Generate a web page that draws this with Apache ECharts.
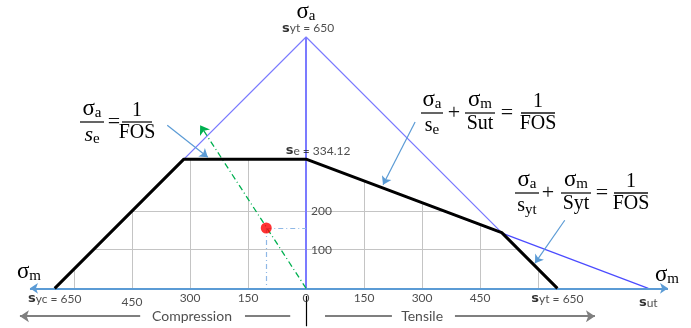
<!DOCTYPE html>
<html>
<head>
<meta charset="utf-8">
<script src="https://cdn.jsdelivr.net/npm/echarts@6/dist/echarts.min.js"></script>
<style>
  html, body { margin: 0; padding: 0; background: #fff; }
  #chart { width: 691px; height: 328px; }
</style>
</head>
<body>
<div id="chart"></div>
<script>
// safe-zone boundary (black): compression yield, endurance, Goodman, tensile yield
const safeM = [-650, -316, 0, 506, 650];
const safeA = [0, 334.12, 334.12, 144, 0];
// Langer yield lines
const langerM = [-650, 0, 650];
const langerA = [0, 650, 0];
// modified Goodman line
const goodmanM = [0, 885];
const goodmanA = [334.12, 0];
// working point and load line end
const pointM = -103;
const pointA = 156;
const loadEndM = -274;
const loadEndA = 422;
// grid lines inside the safe zone
const gridM = [-600, -450, -300, -150, 150, 300, 450, 600];
const gridA = [100, 200];
// σm axis labels
const tickM = [-650, -450, -300, -150, 0, 150, 300, 450, 650, 885];
const tickLabels = ["{b|s}yc = 650", "450", "300", "150", "0", "150", "300", "450", "{b|s}yt = 650", "{b|s}ut"];
// σa axis labels
const vTickA = [100, 200];
const vTickLabels = ["100", "200"];

const sans = "Lato";
const serif = "Liberation Serif";

function crossings(a) {
  // σm where the black boundary reaches σa = a
  const out = [];
  for (let i = 0; i < safeM.length - 1; i += 1) {
    const a0 = safeA[i], a1 = safeA[i + 1];
    if ((a - a0) * (a - a1) <= 0 && a0 !== a1) {
      out.push(safeM[i] + ((a - a0) / (a1 - a0)) * (safeM[i + 1] - safeM[i]));
    }
  }
  return out;
}
function boundaryAt(m) {
  for (let i = 0; i < safeM.length - 1; i += 1) {
    if (m >= safeM[i] && m <= safeM[i + 1]) {
      const t = (m - safeM[i]) / (safeM[i + 1] - safeM[i]);
      return safeA[i] + t * (safeA[i + 1] - safeA[i]);
    }
  }
  return 0;
}

const gridSegs = [];
gridM.forEach((m) => gridSegs.push({ coords: [[m, 0], [m, boundaryAt(m)]] }));
gridA.forEach((a) => {
  const c = crossings(a);
  gridSegs.push({ coords: [[Math.min(...c), a], [Math.max(...c), a]] });
});

const mathRich = {
  m: { fontFamily: serif, fontSize: 23, color: "#111" },
  s: { fontFamily: serif, fontSize: 15, color: "#111", padding: [9, 0, 0, 0] },
  i: { fontFamily: serif, fontSize: 22, color: "#111", fontStyle: "italic" },
  t: { fontFamily: serif, fontSize: 20, color: "#111" },
};

function txt(x, y, text, align, valign, rich) {
  return {
    type: "text",
    x: x,
    y: y,
    style: {
      text: text,
      rich: rich || mathRich,
      align: align, textAlign: align,
      verticalAlign: valign, textVerticalAlign: valign,
    },
  };
}
function frac(cx, y, num, den, w) {
  return [
    txt(cx, y - 1, num, "center", "bottom"),
    { type: "line", shape: { x1: cx - w / 2, y1: y, x2: cx + w / 2, y2: y }, style: { stroke: "#111", lineWidth: 1.3 } },
    txt(cx, y + 1, den, "center", "top"),
  ];
}
function sign(x, y, s) {
  return {
    type: "text",
    x: x,
    y: y,
    style: {
      text: s,
      font: "22px 'Liberation Serif'",
      fill: "#111",
      align: "center", textAlign: "center",
      verticalAlign: "middle", textVerticalAlign: "middle",
    },
  };
}

const formulas = [].concat(
  frac(92, 122, "{m|σ}{s|a}", "{i|s}{s|e}", 24),
  [sign(114, 122, "=")],
  frac(137, 122, "{t|1}", "{t|FOS}", 30),

  frac(432, 113, "{m|σ}{s|a}", "{t|s}{s|e}", 22),
  [sign(454, 113, "+")],
  frac(480, 113, "{m|σ}{s|m}", "{t|Sut}", 30),
  [sign(507, 113, "=")],
  frac(538, 113, "{t|1}", "{t|FOS}", 34),

  frac(527, 193, "{m|σ}{s|a}", "{t|s}{s|yt}", 24),
  [sign(548, 193, "+")],
  frac(576, 193, "{m|σ}{s|m}", "{t|Syt}", 30),
  [sign(602, 193, "=")],
  frac(631, 193, "{t|1}", "{t|FOS}", 34),

  [txt(306, 12, "{m|σ}{s|a}", "center", "middle")],
  [txt(29, 272, "{m|σ}{s|m}", "center", "middle")],
  [txt(667, 275, "{m|σ}{s|m}", "center", "middle")]
);

const tickRich = { b: { fontFamily: "DejaVu Sans", fontSize: 13, fontWeight: "bold", color: "#000" } };

const chart = echarts.init(document.getElementById("chart"));
chart.setOption({
  animation: false,
  grid: { left: 6, right: 13.7, top: 2.2, bottom: 1 },
  xAxis: { type: "value", min: -776, max: 960, show: false },
  yAxis: { type: "value", min: -100, max: 740, show: false },
  graphic: formulas,
  series: [
    {
      name: "grid",
      type: "lines",
      coordinateSystem: "cartesian2d",
      z: 1,
      lineStyle: { color: "#c4c4c4", width: 1, opacity: 1 },
      data: gridSegs,
    },
    {
      name: "Langer",
      type: "line",
      z: 2,
      symbol: "none",
      lineStyle: { color: "#7b7bff", width: 1.2 },
      data: langerM.map((m, i) => [m, langerA[i]]),
    },
    {
      name: "Goodman",
      type: "line",
      z: 2,
      symbol: "none",
      lineStyle: { color: "#4b4bff", width: 1.2 },
      data: goodmanM.map((m, i) => [m, goodmanA[i]]),
    },
    {
      name: "axes",
      type: "lines",
      coordinateSystem: "cartesian2d",
      z: 3,
      data: [
        { coords: [[0, 0], [0, 650]], lineStyle: { color: "#7b7bff", width: 2, opacity: 1 } },
        { coords: [[-714, 0], [936, 0]], symbol: ["arrow", "arrow"], symbolSize: 8, lineStyle: { color: "#5b9bd5", width: 2, opacity: 1 } },
      ],
    },
    {
      name: "safe zone",
      type: "line",
      z: 5,
      symbol: "none",
      lineStyle: { color: "#000", width: 3 },
      data: safeM.map((m, i) => [m, safeA[i]]),
    },
    {
      name: "load line",
      type: "lines",
      coordinateSystem: "cartesian2d",
      z: 4,
      symbol: ["none", "arrow"],
      symbolSize: 9,
      lineStyle: { color: "#00b050", width: 1.3, type: [6, 3, 1, 3], opacity: 1 },
      data: [{ coords: [[0, 0], [loadEndM, loadEndA]] }],
    },
    {
      name: "projections",
      type: "lines",
      coordinateSystem: "cartesian2d",
      z: 4,
      lineStyle: { color: "#8fb8e6", width: 1.2, type: [5, 3, 1, 3], opacity: 1 },
      data: [
        { coords: [[pointM, pointA], [pointM, 0]] },
        { coords: [[pointM, pointA], [0, pointA]] },
      ],
    },
    {
      name: "point",
      type: "scatter",
      z: 6,
      symbolSize: 11,
      itemStyle: { color: "#ff0000" },
      data: [[pointM, pointA]],
    },
    {
      name: "callouts",
      type: "lines",
      coordinateSystem: "cartesian2d",
      z: 6,
      symbol: ["none", "arrow"],
      symbolSize: 8,
      lineStyle: { color: "#5b9bd5", width: 1.2, opacity: 1 },
      data: [
        { coords: [[-359, 422], [-254, 339]] },
        { coords: [[282, 430], [199, 268]] },
        { coords: [[669, 176], [592, 65]] },
      ],
    },
    {
      name: "direction",
      type: "lines",
      coordinateSystem: "cartesian2d",
      z: 3,
      lineStyle: { color: "#7f7f7f", width: 2, opacity: 1 },
      data: [
        { coords: [[-429, -72], [-740, -72]], symbol: ["none", "arrow"], symbolSize: 9 },
        { coords: [[-158, -72], [-41, -72]], symbol: ["none", "none"] },
        { coords: [[49, -72], [222, -72]], symbol: ["none", "none"] },
        { coords: [[385, -72], [747, -72]], symbol: ["none", "arrow"], symbolSize: 9 },
        { coords: [[0, -20], [0, -98]], symbol: ["none", "none"], lineStyle: { color: "#000", width: 1.2 } },
      ],
    },
    {
      name: "m ticks",
      type: "scatter",
      z: 7,
      symbolSize: 0,
      silent: true,
      label: {
        show: true,
        position: "bottom",
        distance: 4,
        fontFamily: sans,
        fontSize: 12,
        color: "#222",
        rich: tickRich,
        formatter: (p) => tickLabels[p.dataIndex],
      },
      data: tickM.map((m, i) => ({
        value: [m, 0],
        label: i === 1 || i === 9 ? { offset: [0, 4] } : {},
      })),
    },
    {
      name: "a ticks",
      type: "scatter",
      z: 7,
      symbolSize: 0,
      silent: true,
      label: {
        show: true,
        position: "right",
        distance: 5,
        fontFamily: sans,
        fontSize: 12,
        color: "#222",
        formatter: (p) => vTickLabels[p.dataIndex],
      },
      data: vTickA.map((a) => [0, a]),
    },
    {
      name: "limits",
      type: "scatter",
      z: 7,
      symbolSize: 0,
      silent: true,
      label: {
        show: true,
        position: "top",
        distance: 2,
        fontFamily: sans,
        fontSize: 12,
        color: "#222",
        rich: tickRich,
        formatter: (p) => p.data.text,
      },
      data: [
        { value: [0, 650], text: "{b|s}yt = 650", label: { offset: [2, 0] } },
        { value: [0, 334.12], text: "{b|s}e = 334.12", label: { offset: [12, 0] } },
      ],
    },
    {
      name: "sides",
      type: "scatter",
      z: 7,
      symbolSize: 0,
      silent: true,
      label: {
        show: true,
        position: "inside",
        fontFamily: sans,
        fontSize: 14,
        color: "#222",
        formatter: (p) => p.data.text,
      },
      data: [
        { value: [-295, -72], text: "Compression" },
        { value: [300, -72], text: "Tensile" },
      ],
    },
  ],
});
window.addEventListener("resize", () => chart.resize());
</script>
</body>
</html>
